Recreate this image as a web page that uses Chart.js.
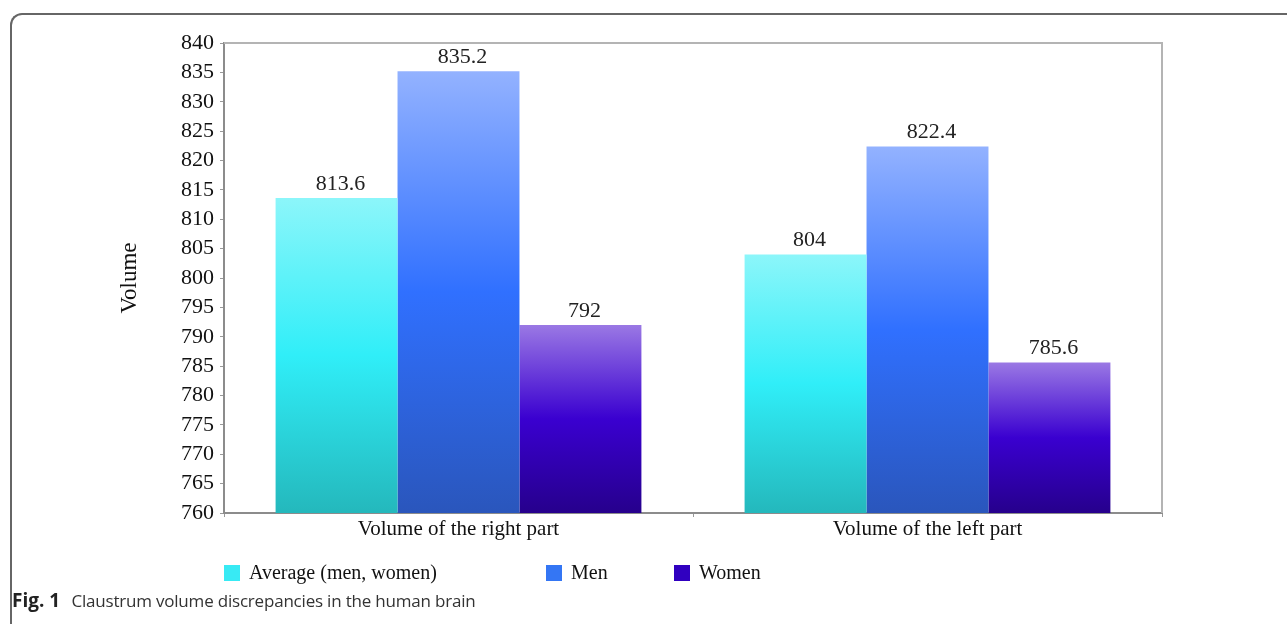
<!DOCTYPE html>
<html>
<head>
<meta charset="utf-8">
<script src="https://cdn.jsdelivr.net/npm/chart.js@4.4.0/dist/chart.umd.min.js"></script>
<style>
  body { margin: 0; background: #fff; width: 1287px; height: 624px; overflow: hidden; position: relative; }
  #frame { position: absolute; left: 10px; top: 13px; width: 1400px; height: 700px; border-top: 2px solid #666; border-left: 2px solid #666; border-top-left-radius: 12px; }
  #wrap { position: absolute; left: 0; top: 0; width: 1287px; height: 592px; }
  #legend { position: absolute; top: 561px; left: 0; font-family: "Liberation Serif", "Times New Roman", serif; font-size: 20px; color: #111; }
  #legend span.item { position: absolute; white-space: nowrap; line-height: 22px; }
  #legend i { display: inline-block; width: 16px; height: 16px; vertical-align: -2px; margin-right: 9px; }
  #caption { position: absolute; left: 12px; top: 587px; font-family: "Open Sans", "Noto Sans", sans-serif; font-size: 17px; letter-spacing: -0.2px; color: #333; }
  #caption b { color: #222; margin-right: 7px; font-size: 19px; letter-spacing: 0; }
</style>
</head>
<body>
<div id="frame"></div>
<div id="wrap"><canvas id="chart"></canvas></div>
<div id="legend"></div>
<div id="caption"><b>Fig. 1</b> Claustrum volume discrepancies in the human brain</div>
<script>
// chart data
let categories = ['Volume of the right part', 'Volume of the left part']
let seriesNames = ['Average (men, women)', 'Men', 'Women']
let averageValues = [813.6, 804]
let menValues = [835.2, 822.4]
let womenValues = [792, 785.6]
let yTicks = { min: 760, max: 840, step: 5 }

// gradient stops per series: top, middle, bottom
let gradients = [
    ['#8cf6fa', '#30eef8', '#24b8bc'],
    ['#93b2ff', '#3070ff', '#2a56bc'],
    ['#9a78e4', '#3a00d0', '#26008c']
]
let legendColors = ['#38eaf4', '#3476f4', '#3000c0']
let legendLeft = [224, 546, 674]

function barFill(i){
    return function(ctx){
        let chart = ctx.chart
        let area = chart.chartArea
        if(!area || ctx.parsed == undefined){ return legendColors[i] }
        let top = chart.scales.y.getPixelForValue(ctx.parsed.y)
        let g = chart.ctx.createLinearGradient(0, top, 0, area.bottom)
        g.addColorStop(0, gradients[i][0])
        g.addColorStop(0.5, gradients[i][1])
        g.addColorStop(1, gradients[i][2])
        return g
    }
}

//draws the values above each bar and the box round the plot
let valueLabels = {
    id: 'valueLabels',
    afterDatasetsDraw(chart){
        let c = chart.ctx
        let a = chart.chartArea
        c.save()
        c.strokeStyle = '#b4b4b4'
        c.lineWidth = 2
        c.beginPath()
        c.moveTo(a.left, a.top)
        c.lineTo(a.right, a.top)
        c.lineTo(a.right, a.bottom)
        c.stroke()
        c.font = '22px "Liberation Serif", "Times New Roman", serif'
        c.fillStyle = '#222'
        c.textAlign = 'center'
        c.textBaseline = 'bottom'
        chart.data.datasets.forEach((ds, i) => {
            chart.getDatasetMeta(i).data.forEach((el, j) => {
                c.fillText(String(ds.data[j]), el.x + 4, el.y - 3)
            })
        })
        c.restore()
    }
}

let serif = '"Liberation Serif", "Times New Roman", serif'

let data = {
    labels: categories,
    datasets: [averageValues, menValues, womenValues].map((vals, i) => ({
        label: seriesNames[i],
        data: vals,
        backgroundColor: barFill(i),
        borderWidth: 0,
        categoryPercentage: 0.78,
        barPercentage: 1
    }))
}

const config = {
    type: 'bar',
    data: data,
    options: {
        responsive: true,
        maintainAspectRatio: false,
        animation: false,
        layout: { padding: { left: 116, right: 125, top: 43, bottom: 49 } },
        plugins: {
            tooltip: { enabled: false },
            legend: { display: false }
        },
        scales: {
            x: {
                afterFit(scale){ scale.height = 30 },
                grid: { display: true, drawOnChartArea: false, tickLength: 4, color: '#999', offset: true },
                border: { color: '#8c8c8c', width: 2 },
                ticks: { color: '#111', font: { family: serif, size: 21 }, padding: 0 }
            },
            y: {
                min: yTicks.min,
                max: yTicks.max,
                afterFit(scale){ scale.width = 108 },
                grid: { display: true, drawOnChartArea: false, tickLength: 4, color: '#999' },
                border: { color: '#8c8c8c', width: 2 },
                ticks: { stepSize: yTicks.step, autoSkip: false, color: '#111', font: { family: serif, size: 22 }, padding: 6 },
                title: { display: true, text: 'Volume', color: '#111', font: { family: serif, size: 23 }, padding: 0 }
            }
        }
    },
    plugins: [valueLabels]
}

new Chart(document.querySelector('#chart'), config)

//legend built from the same series names and colours
let legend = document.querySelector('#legend')
seriesNames.forEach((name, i) => {
    let item = document.createElement('span')
    item.className = 'item'
    item.style.left = legendLeft[i] + 'px'
    let box = document.createElement('i')
    box.style.background = legendColors[i]
    item.append(box, name)
    legend.append(item)
})
</script>
</body>
</html>
